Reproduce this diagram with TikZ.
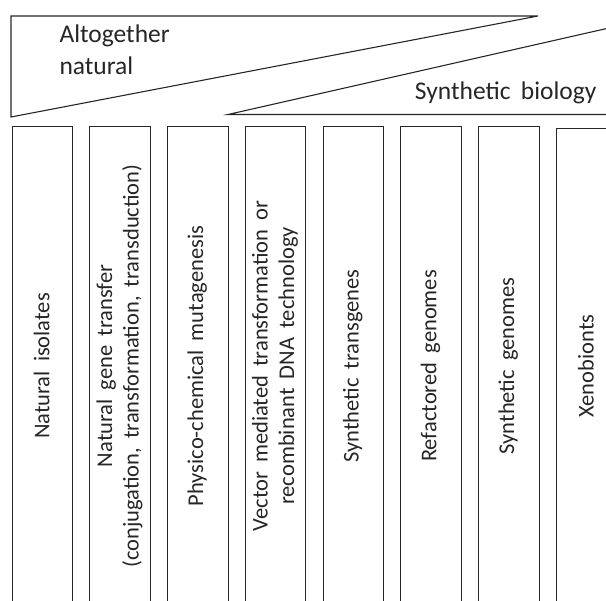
\documentclass[tikz,border=0pt]{standalone}
\usepackage{fontspec}
\setmainfont[WordSpace=1.8]{Carlito}
\begin{document}
\begin{tikzpicture}[x=1pt,y=-1pt,
  ln/.style={draw=black!85,line width=1.1pt},
  col/.style={ln,rectangle,minimum width=60.5pt,minimum height=520pt,anchor=north west,inner sep=0pt},
  lab/.style={font=\fontsize{25.5}{32}\selectfont,text=black!85},
  vlab/.style={font=\fontsize{22.5}{26.5}\selectfont,text=black!85,rotate=90,align=center,inner sep=0pt}]
\useasboundingbox (0,0) rectangle (606,601);
\clip (0,0) rectangle (606,601);
% top wedges
\coordinate (a1) at (11,16);
\coordinate (a2) at (538,16);
\coordinate (a3) at (11,117);
\draw[ln,line join=miter] (a2) -- (a1) -- (a3) -- cycle;
\coordinate (b1) at (228,114.5);
\coordinate (b2) at (620,114.5);
\coordinate (b3) at (620,25.5);
\draw[ln] (b2) -- (b1) -- (b3);
\node[lab,anchor=base west,align=left] (tn) at (56,75) {Altogether\\natural};
\node[lab,anchor=base east] (ts) at (600,100) {Synthetic biology};
% columns
\node[col] (c1) at (11.5,126) {};
\node[col] (c2) at (89.25,126) {};
\node[col] (c3) at (167,126) {};
\node[col] (c4) at (244.75,126) {};
\node[col] (c5) at (322.5,126) {};
\node[col] (c6) at (400.25,126) {};
\node[col] (c7) at (478,126) {};
\node[col] (c8) at (555.75,128.3) {};
% labels
\node[vlab] (l1) at (41.75,366) {Natural isolates};
\node[vlab] (l2) at (119.5,366) {Natural gene transfer\\(conjugation, transformation, transduction)};
\node[vlab] (l3) at (197.25,366) {Physico-chemical mutagenesis};
\node[vlab] (l4) at (275,366) {Vector mediated transformation or\\recombinant DNA technology};
\node[vlab] (l5) at (352.75,366) {Synthetic transgenes};
\node[vlab] (l6) at (430.5,366) {Refactored genomes};
\node[vlab] (l7) at (508.25,366) {Synthetic genomes};
\node[vlab] (l8) at (586,366) {Xenobionts};
\end{tikzpicture}
\end{document}
